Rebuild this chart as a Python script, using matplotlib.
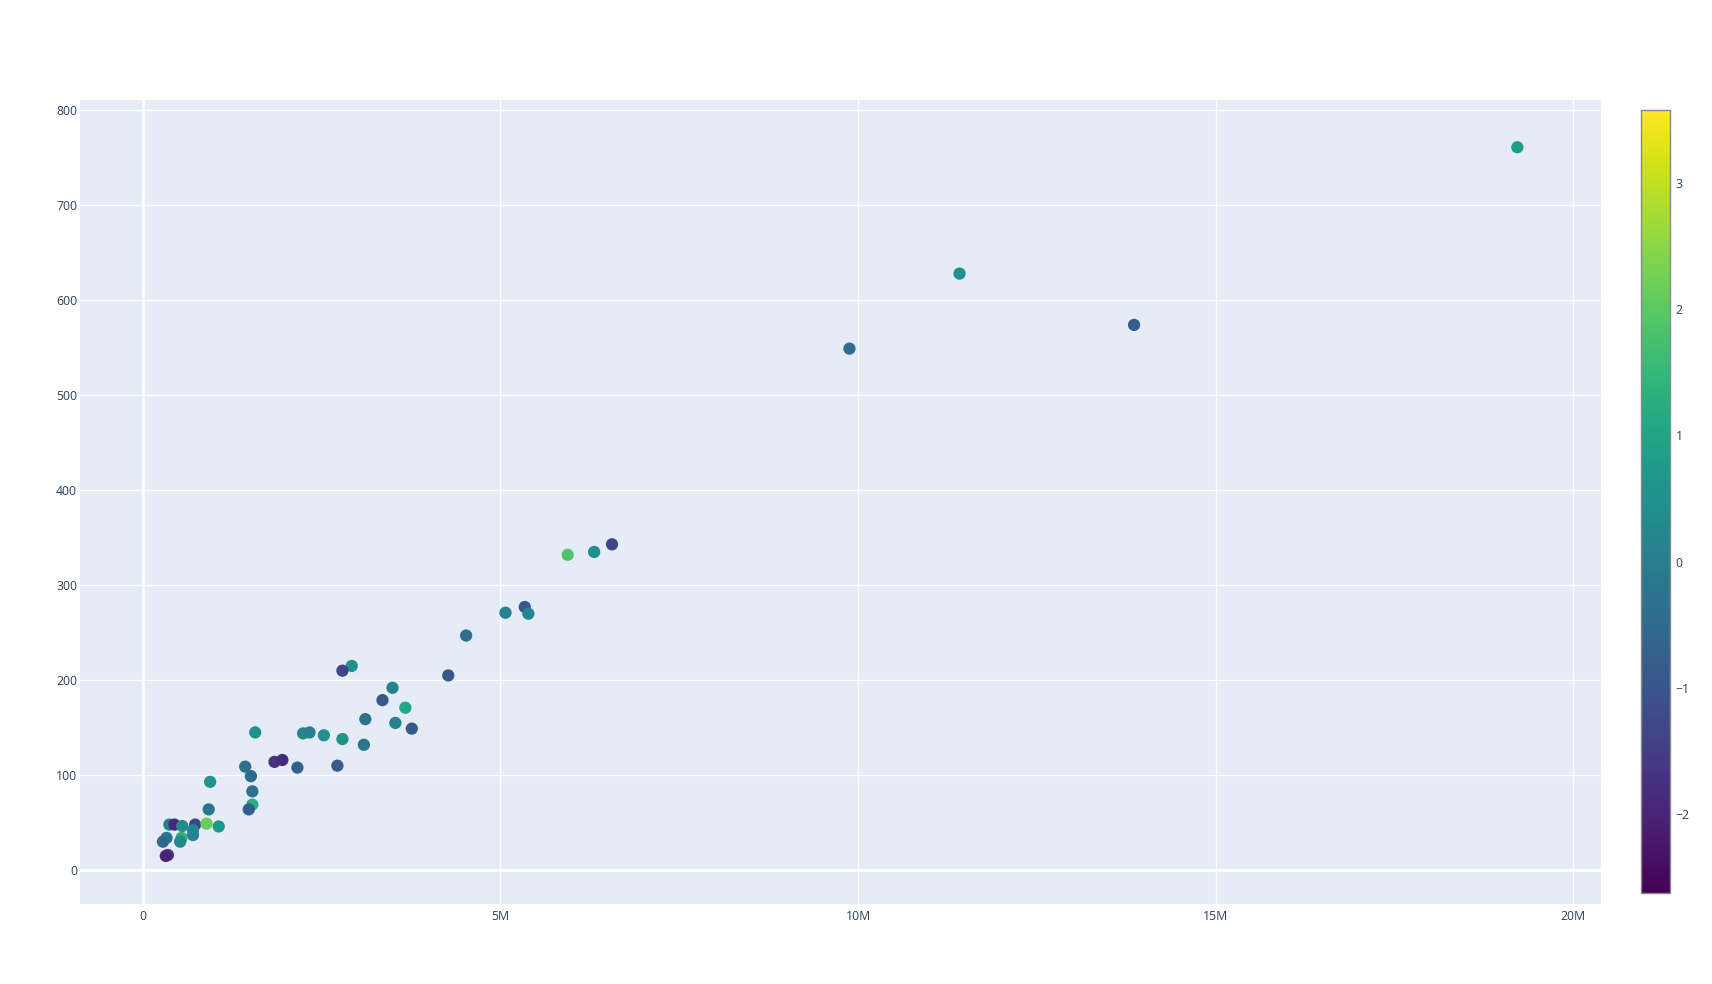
import numpy as np
import matplotlib
matplotlib.use("Agg")
import matplotlib.pyplot as plt
from matplotlib.ticker import FuncFormatter, FixedLocator

# x in millions, y values, colour values
x_m = [19.22, 11.42, 13.86, 9.88, 6.56, 6.31, 5.94, 5.34, 5.39, 5.07,
       4.52, 4.27, 2.92, 2.79, 3.49, 3.35, 3.67, 3.11, 3.53, 3.76,
       1.57, 2.24, 2.33, 2.53, 2.79, 3.09, 1.84, 1.95, 2.16, 2.72,
       1.43, 1.51, 0.94, 1.53, 1.53, 1.48, 0.92, 0.37, 0.44, 0.55,
       0.73, 0.89, 1.06, 0.70, 0.70, 0.54, 0.52, 0.33, 0.28, 0.35, 0.32]
y_vals = [761, 628, 574, 549, 343, 335, 332, 277, 270, 271,
          247, 205, 215, 210, 192, 179, 171, 159, 155, 149,
          145, 144, 145, 142, 138, 132, 114, 116, 108, 110,
          109, 99, 93, 83, 69, 64, 64, 48, 48, 46.5,
          48, 49, 46, 42, 37, 34, 30, 34, 30, 16, 15]
c_vals = [0.8, 0.5, -0.8, -0.35, -1.35, 0.45, 1.85, -0.95, 0.2, 0.05,
          -0.45, -0.95, 0.45, -1.35, 0.15, -0.95, 1.1, -0.35, 0.1, -0.85,
          0.5, 0.2, 0.05, 0.5, 0.55, -0.2, -1.75, -1.9, -0.75, -0.85,
          -0.35, -0.5, 0.55, -0.35, 1.3, -0.8, -0.15, 0.15, -1.95, 0.35,
          -1.3, 2.15, 0.65, 0.3, 0.1, 1.35, 0.3, -0.25, -0.55, -1.5, -2.0]
c_min, c_max = -2.63, 3.58

x_ticks = [0, 5e6, 10e6, 15e6, 20e6]
y_ticks = [0, 100, 200, 300, 400, 500, 600, 700, 800]
cb_ticks = [-2, -1, 0, 1, 2, 3]

plt.rcParams['font.family'] = ['Open Sans', 'DejaVu Sans']
tick_color = '#2a3f5f'

W, H = 1712, 984
fig = plt.figure(figsize=(W / 100, H / 100), dpi=100)
ax = fig.add_axes([80 / W, 1 - 904 / H, (1601 - 80) / W, (904 - 100.4) / H])
ax.set_facecolor('#E5ECF6')

x = np.array(x_m) * 1e6
ax.set_xlim(-0.88e6, 20.39e6)
ax.set_ylim(-35.6, 810.3)

ax.xaxis.set_major_locator(FixedLocator(x_ticks))
ax.yaxis.set_major_locator(FixedLocator(y_ticks))
ax.xaxis.set_major_formatter(FuncFormatter(lambda v, p: '0' if v == 0 else f'{v / 1e6:g}M'))
ax.grid(True, color='white', linewidth=1)
ax.set_axisbelow(True)
ax.axvline(0, color='white', linewidth=2, zorder=1)
ax.axhline(0, color='white', linewidth=2, zorder=1)
for s in ax.spines.values():
    s.set_visible(False)
ax.tick_params(axis='both', length=0, labelsize=8.8, colors=tick_color)
ax.tick_params(axis='x', pad=4)
ax.tick_params(axis='y', pad=2)

sc = ax.scatter(x, y_vals, c=c_vals, cmap='viridis', vmin=c_min, vmax=c_max,
                s=78, linewidths=0, zorder=3)

cax = fig.add_axes([1641 / W, 1 - 893 / H, 29 / W, (893 - 110.3) / H])
cb = fig.colorbar(sc, cax=cax)
cb.set_ticks(cb_ticks)
cb.set_ticklabels([f'\u2212{abs(t)}' if t < 0 else str(t) for t in cb_ticks])
cb.outline.set_edgecolor('#888888')
cb.outline.set_linewidth(1)
cax.tick_params(length=0, labelsize=8.8, colors=tick_color, pad=4)

fig.savefig('out.png', dpi=100)
